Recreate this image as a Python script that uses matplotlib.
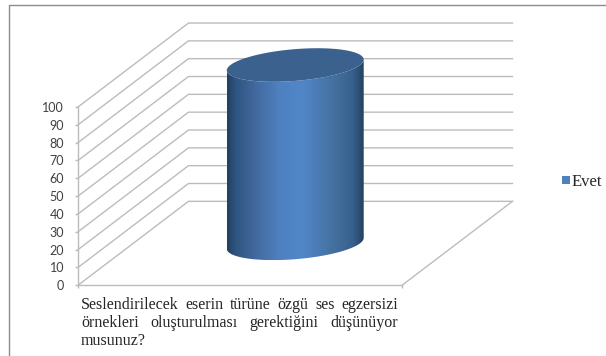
# Evet cylinder chart (oblique 3D look, as in the Excel original)
import matplotlib
matplotlib.use('Agg')
import matplotlib.pyplot as plt
import numpy as np
from matplotlib.colors import LinearSegmentedColormap
from matplotlib.lines import Line2D
from matplotlib.patches import Polygon, Patch

series_name = 'Evet'
values = [100]
y_ticks = [0, 10, 20, 30, 40, 50, 60, 70, 80, 90, 100]
label_lines = [
    'Seslendirilecek eserin türüne özgü ses egzersizi',
    'örnekleri oluşturulması gerektiğini düşünüyor',
    'musunuz?',
]

W, H = 606, 356
DEPTH_X = 0.341   # depth shift in x units
DEPTH_Y = 47.1    # depth shift in y units
GRID = '#bcbcbc'


def project(x, y, d):
    return x + d * DEPTH_X, y + d * DEPTH_Y


fig = plt.figure(figsize=(W / 100, H / 100), dpi=100)
ax = fig.add_axes([78 / W, (H - 285.3) / H, 324 / W, 178.3 / H])
ax.patch.set_alpha(0)

# outer frame of the chart
fig.add_artist(Line2D([9 / W, 9 / W, 1], [0, 1 - 4.5 / H, 1 - 4.5 / H], color='#8c8c8c', lw=1))

# walls and floor
for v in y_ticks:
    x0, y0 = project(0, v, 0)
    x1, y1 = project(0, v, 1)
    x2, y2 = project(1, v, 1)
    ax.plot([x0, x1, x2], [y0, y1, y2], color=GRID, lw=1, clip_on=False, zorder=1)
x0, y0 = project(1, 0, 0)
x1, y1 = project(1, 0, 1)
ax.plot([x0, x1], [y0, y1], color=GRID, lw=1, clip_on=False, zorder=1)

# cylinder
cx, cd = 0.5, 0.5
rx, rd = 0.2, 0.2
h = values[0]
t = np.linspace(0, 2 * np.pi, 241)
ex, ey = project(cx + rx * np.cos(t), 0, cd + rd * np.sin(t))
tx, ty = project(cx + rx * np.cos(t), h, cd + rd * np.sin(t))
i_right = np.argmax(ex)
i_left = np.argmin(ex)
lower = np.roll(np.arange(240), -i_left)
lower = lower[:(i_right - i_left) % 240 + 1]
side = np.column_stack([np.r_[ex[lower], tx[lower][::-1]], np.r_[ey[lower], ty[lower][::-1]]])

cmap = LinearSegmentedColormap.from_list('cyl', [
    (0.0, '#22405f'), (0.06, '#2f5480'), (0.2, '#41699d'), (0.38, '#4f80bf'),
    (0.55, '#5187c9'), (0.78, '#44709f'), (0.92, '#38608d'), (1.0, '#24425f')])
grad = np.linspace(0, 1, 256).reshape(1, -1)
im = ax.imshow(grad, cmap=cmap, aspect='auto', zorder=3,
               extent=[ex.min(), ex.max(), ey.min(), ty.max()])
clip = Polygon(side, closed=True, transform=ax.transData, facecolor='none', edgecolor='none')
ax.add_patch(clip)
im.set_clip_path(clip)
im.set_clip_box(fig.bbox)
ax.fill(tx, ty, color='#3b618f', lw=0, zorder=4, clip_on=False)

ax.set_xlim(0, 1)
ax.set_ylim(0, 100)
ax.set_yticks(y_ticks)
ax.set_xticks([0, 1])
ax.set_xticklabels([])
ax.tick_params(axis='both', length=2, width=1, color=GRID, labelcolor='#404040')
ax.tick_params(axis='y', pad=8)
for lab in ax.get_yticklabels():
    lab.set_fontfamily('Lato')
    lab.set_fontsize(9)
for s in ['top', 'right']:
    ax.spines[s].set_visible(False)
for s in ['left', 'bottom']:
    ax.spines[s].set_color(GRID)
    ax.spines[s].set_linewidth(1)

# category label, justified like in the original
fig.canvas.draw()
renderer = fig.canvas.get_renderer()
text_left, text_right = 81, 398
baselines = [309, 327, 345]
for line, base in zip(label_lines, baselines):
    words = line.split()
    widths = []
    for w in words:
        tmp = fig.text(0, 0, w, family='Liberation Serif', fontsize=11.5)
        widths.append(tmp.get_window_extent(renderer).width)
        tmp.remove()
    if len(words) > 1:
        gap = (text_right - text_left - sum(widths)) / (len(words) - 1)
    else:
        gap = 0
    pos = text_left
    for w, wd in zip(words, widths):
        fig.text(pos / W, (H - base) / H, w, family='Liberation Serif', fontsize=11.5,
                 color='#262626', va='baseline', ha='left')
        pos += wd + gap

# legend
handle = Patch(facecolor='#4f81bd', edgecolor='none')
fig.legend([handle], [series_name], loc='center left', bbox_to_anchor=(562 / W, 1 - 182 / H),
           frameon=False, handlelength=0.48, handleheight=0.36, handletextpad=0.1,
           borderpad=0, borderaxespad=0, prop={'family': 'Liberation Serif', 'size': 12},
           labelcolor='#262626')

fig.savefig('out.png', dpi=100)
